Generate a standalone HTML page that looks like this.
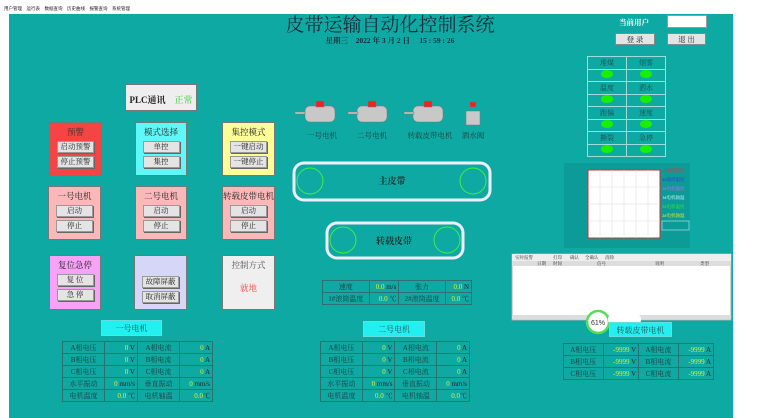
<!DOCTYPE html>
<html><head><meta charset="utf-8"><style>
*{margin:0;padding:0;box-sizing:border-box}
body{width:780px;height:418px;background:#fff;position:relative;overflow:hidden;font-family:"Liberation Serif","Noto Serif CJK SC",serif;font-size:8px;color:#222}
.a{position:absolute}
#bg{left:9px;top:14px;width:724px;height:404px;background:#0fa9a3}
.box{position:absolute;border:1px solid #777;text-align:center;font-size:8.5px;padding-top:3px}
.btn{display:block;margin:3px auto 0;width:37px;height:12px;background:#e4e4e4;border:1px solid #999;box-shadow:1px 1px 0 #666;font-size:7.5px;line-height:10px;color:#222}
table{border-collapse:collapse;position:absolute;font-size:7px}
td{border:1px solid #2e6f72;height:12px;padding:0 2px;color:#1b3b3b;text-align:center;white-space:nowrap}
.v{color:#d4f03c;text-align:right}
.lbl{position:absolute;background:#22f0f0;border:1px solid #6dd;text-align:center;font-size:8px;line-height:15px;color:#255}
.grid td{border:1px solid #9fdcd8;width:39px;height:12.5px;color:#1d4d4d;font-size:7px}
.led{display:inline-block;width:12px;height:8px;border-radius:50%;background:#18f000}
</style></head><body>
<div class="a" style="left:4px;top:6px;font-size:4.5px;font-family:'Liberation Sans','Noto Sans CJK SC',sans-serif">用户管理　运行表　数据查询　历史曲线　报警查询　系统管理</div>
<div class="a" id="bg"></div>
<div class="a" style="left:270px;top:16px;width:240px;text-align:center;font-size:19px;line-height:20px;color:#1a2a3a">皮带运输自动化控制系统</div>
<div class="a" style="left:280px;top:37px;width:220px;text-align:center;font-size:7.5px;line-height:8px;font-weight:bold;color:#1a2a3a">星期三　2022 年 3 月 2 日　 15 : 59 : 26</div>
<div class="a" style="left:619px;top:17px;font-size:7.5px;font-weight:bold;color:#fff">当前用户</div>
<div class="a" style="left:667px;top:15px;width:40px;height:13px;background:#fff;border:1px solid #999"></div>
<div class="a" style="left:615px;top:33px;width:40px;height:12px;background:#e4e4e4;border:1px solid #888;font-size:7.5px;text-align:center;line-height:11px">登 录</div>
<div class="a" style="left:667px;top:33px;width:39px;height:12px;background:#e4e4e4;border:1px solid #888;font-size:7.5px;text-align:center;line-height:11px">退 出</div>

<div class="box" style="left:125px;top:84px;width:72px;height:27px;background:#eee;font-size:9px;padding-top:8px"><b>PLC通讯</b>　<span style="color:#3c3">正常</span></div>

<div class="box" style="left:49px;top:122px;width:53px;height:54px;background:#f54444;color:#333">预警<span class="btn">启动预警</span><span class="btn">停止预警</span></div>
<div class="box" style="left:135px;top:122px;width:52px;height:54px;background:#5ff8f8">模式选择<span class="btn">单控</span><span class="btn">集控</span></div>
<div class="box" style="left:222px;top:122px;width:53px;height:54px;background:#fcfc98">集控模式<span class="btn">一键启动</span><span class="btn">一键停止</span></div>

<div class="box" style="left:48px;top:186px;width:53px;height:54px;background:#fbb8b8">一号电机<span class="btn">启动</span><span class="btn">停止</span></div>
<div class="box" style="left:135px;top:186px;width:52px;height:54px;background:#fbb8b8">二号电机<span class="btn">启动</span><span class="btn">停止</span></div>
<div class="box" style="left:222px;top:186px;width:53px;height:54px;background:#fbb8b8">转载皮带电机<span class="btn">启动</span><span class="btn">停止</span></div>

<div class="box" style="left:49px;top:255px;width:52px;height:55px;background:#f6a2f6">复位急停<span class="btn">复 位</span><span class="btn">急 停</span></div>
<div class="box" style="left:134px;top:255px;width:53px;height:55px;background:#d6d6f8;padding-top:17px"><span class="btn">故障屏蔽</span><span class="btn">取消屏蔽</span></div>
<div class="box" style="left:222px;top:255px;width:53px;height:55px;background:#efefef;color:#555">控制方式<div style="color:#e44;margin-top:11px">就地</div></div>

<svg class="a" style="left:0;top:0" width="780" height="418">
<g fill="#c8c8c8" stroke="#777" stroke-width=".5">
<rect x="305" y="106" width="30" height="16" rx="5"/><rect x="295" y="112" width="10" height="2"/><rect x="316" y="101" width="8" height="6" fill="#e22"/>
<rect x="357" y="106" width="30" height="16" rx="5"/><rect x="348" y="112" width="10" height="2"/><rect x="368" y="101" width="8" height="6" fill="#e22"/>
<rect x="413" y="106" width="30" height="16" rx="5"/><rect x="404" y="112" width="10" height="2"/><rect x="424" y="101" width="8" height="6" fill="#e22"/>
<rect x="466" y="111" width="14" height="14"/><rect x="470" y="102" width="6" height="5" fill="#e22"/>
</g>
<g font-size="7.5" fill="#1d3d3d" text-anchor="middle" font-family="Liberation Serif,Noto Serif CJK SC,serif">
<text x="322" y="138">一号电机</text><text x="372" y="138">二号电机</text><text x="430" y="138">转载皮带电机</text><text x="473" y="138">洒水阀</text></g>
<rect x="294" y="163" width="196" height="37" rx="10" fill="none" stroke="#eef" stroke-width="3"/>
<rect x="327" y="223" width="136" height="35" rx="10" fill="none" stroke="#eef" stroke-width="3"/>
<g fill="none" stroke="#4e4"><circle cx="310" cy="181" r="13"/><circle cx="473" cy="181" r="13"/><circle cx="343" cy="240" r="13"/><circle cx="447" cy="240" r="13"/></g>
<text x="392" y="184" font-size="9" text-anchor="middle" font-weight="bold" fill="#1a2a2a">主皮带</text>
<text x="394" y="244" font-size="9" text-anchor="middle" font-weight="bold" fill="#1a2a2a">转载皮带</text>
<rect x="564" y="163" width="126" height="85" fill="#0c9b97"/>
<rect x="588" y="170" width="72" height="68" fill="#fff" stroke="#c33"/>
<g stroke="#ddd" stroke-width=".5"><line x1="600" y1="170" x2="600" y2="238"/><line x1="612" y1="170" x2="612" y2="238"/><line x1="624" y1="170" x2="624" y2="238"/><line x1="636" y1="170" x2="636" y2="238"/><line x1="648" y1="170" x2="648" y2="238"/><line x1="588" y1="187" x2="660" y2="187"/><line x1="588" y1="204" x2="660" y2="204"/><line x1="588" y1="221" x2="660" y2="221"/></g>
<g font-size="4.5"><text x="662" y="172" fill="#e33">1#滚筒温度</text><text x="662" y="181" fill="#33e">2#滚筒温度</text><text x="662" y="190" fill="#c6f">1#电机温度</text><text x="662" y="199" fill="#cff">1#电机轴温</text><text x="662" y="208" fill="#3e3">2#电机温度</text><text x="662" y="217" fill="#ee3">2#电机轴温</text></g>
<rect x="662" y="221" width="27" height="9" fill="none" stroke="#7cc"/>
<rect x="512" y="254" width="219" height="66" fill="#fff" stroke="#aaa"/>
<rect x="512" y="254" width="219" height="7" fill="#eee"/>
<rect x="512" y="261" width="219" height="5" fill="#ddd"/>
<g font-size="4.5" fill="#333"><text x="515" y="259">实时报警</text><text x="553" y="259">打印</text><text x="570" y="259">确认</text><text x="585" y="259">全确认</text><text x="605" y="259">清除</text>
<text x="537" y="265">日期</text><text x="553" y="265">时间</text><text x="597" y="265">信号</text><text x="655" y="265">说明</text><text x="700" y="265">类型</text></g>
<rect x="512" y="315" width="219" height="4" fill="#ddd"/>
<circle cx="598" cy="322" r="11" fill="#fff" stroke="#5d5" stroke-width="2.5"/>
<text x="598" y="325" font-size="7" text-anchor="middle" fill="#333" font-family="Liberation Sans,sans-serif">61%</text>
<rect x="608" y="314" width="33" height="11" rx="5" fill="#fff"/>
</svg>

<table style="left:322px;top:280px;width:150px">
<tr><td>速度</td><td class="v">0.0 <span style="color:#223">m/s</span></td><td>张力</td><td class="v">0.0 <span style="color:#223">N</span></td></tr>
<tr><td>1#滚筒温度</td><td class="v">0.0 <span style="color:#223">℃</span></td><td>2#滚筒温度</td><td class="v">0.0 <span style="color:#223">℃</span></td></tr></table>

<table class="grid" style="left:587px;top:56px">
<tr><td>堆煤</td><td>烟雾</td></tr><tr><td><span class="led"></span></td><td><span class="led"></span></td></tr>
<tr><td>温度</td><td>洒水</td></tr><tr><td><span class="led"></span></td><td><span class="led"></span></td></tr>
<tr><td>跑偏</td><td>速度</td></tr><tr><td><span class="led"></span></td><td><span class="led"></span></td></tr>
<tr><td>撕裂</td><td>急停</td></tr><tr><td><span class="led"></span></td><td><span class="led"></span></td></tr></table>

<div class="lbl" style="left:101px;top:320px;width:61px;height:16px">一号电机</div>
<div class="lbl" style="left:363px;top:321px;width:62px;height:16px">二号电机</div>
<div class="lbl" style="left:609px;top:322px;width:63px;height:15px">转载皮带电机</div>

<table style="left:62px;top:341px;width:151px">
<tr><td>A相电压</td><td class="v">0 <span style="color:#223">V</span></td><td>A相电流</td><td class="v">0 <span style="color:#223">A</span></td></tr>
<tr><td>B相电压</td><td class="v">0 <span style="color:#223">V</span></td><td>B相电流</td><td class="v">0 <span style="color:#223">A</span></td></tr>
<tr><td>C相电压</td><td class="v">0 <span style="color:#223">V</span></td><td>C相电流</td><td class="v">0 <span style="color:#223">A</span></td></tr>
<tr><td>水平振动</td><td class="v">0 <span style="color:#223">mm/s</span></td><td>垂直振动</td><td class="v">0 <span style="color:#223">mm/s</span></td></tr>
<tr><td>电机温度</td><td class="v">0.0 <span style="color:#223">℃</span></td><td>电机轴温</td><td class="v">0.0<span style="color:#223">℃</span></td></tr></table>

<table style="left:320px;top:341px;width:150px">
<tr><td>A相电压</td><td class="v">0 <span style="color:#223">V</span></td><td>A相电流</td><td class="v">0 <span style="color:#223">A</span></td></tr>
<tr><td>B相电压</td><td class="v">0 <span style="color:#223">V</span></td><td>B相电流</td><td class="v">0 <span style="color:#223">A</span></td></tr>
<tr><td>C相电压</td><td class="v">0 <span style="color:#223">V</span></td><td>C相电流</td><td class="v">0 <span style="color:#223">A</span></td></tr>
<tr><td>水平振动</td><td class="v">0 <span style="color:#223">mm/s</span></td><td>垂直振动</td><td class="v">0 <span style="color:#223">mm/s</span></td></tr>
<tr><td>电机温度</td><td class="v">0.0 <span style="color:#223">℃</span></td><td>电机轴温</td><td class="v">0.0<span style="color:#223">℃</span></td></tr></table>

<table style="left:563px;top:343px;width:151px">
<tr><td>A相电压</td><td class="v">-9999 <span style="color:#223">V</span></td><td>A相电流</td><td class="v">-9999 <span style="color:#223">A</span></td></tr>
<tr><td>B相电压</td><td class="v">-9999 <span style="color:#223">V</span></td><td>B相电流</td><td class="v">-9999 <span style="color:#223">A</span></td></tr>
<tr><td>C相电压</td><td class="v">-9999 <span style="color:#223">V</span></td><td>C相电流</td><td class="v">-9999 <span style="color:#223">A</span></td></tr></table>
</body></html>
